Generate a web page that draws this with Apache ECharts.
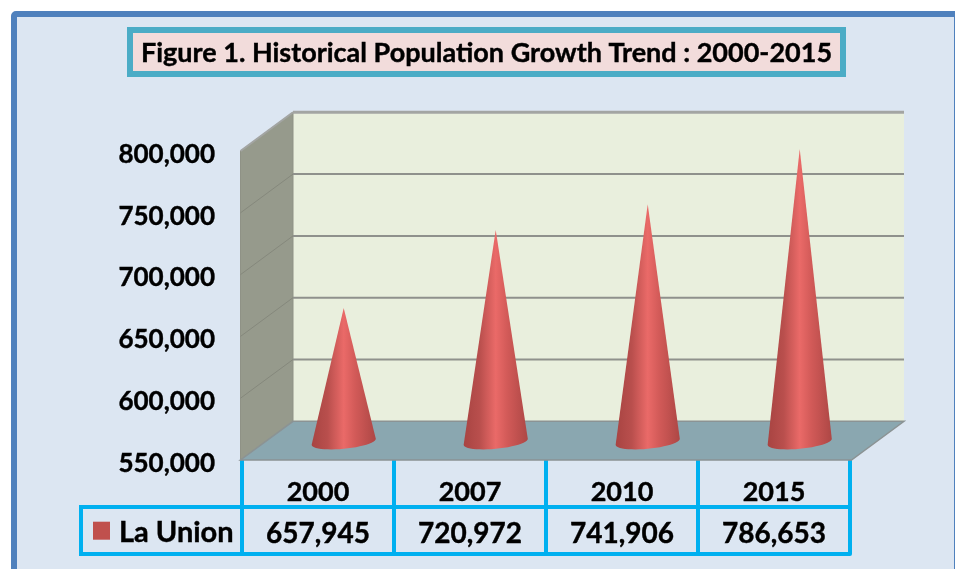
<!DOCTYPE html>
<html>
<head>
<meta charset="utf-8">
<title>Historical Population Growth Trend</title>
<style>
  html, body { margin: 0; padding: 0; background: #fff; }
  #main { width: 955px; height: 569px; }
</style>
<script src="https://cdn.jsdelivr.net/npm/echarts@6/dist/echarts.min.js"></script>
</head>
<body>
<div id="main"></div>
<script>
var years = ['2000', '2007', '2010', '2015'];
var population = [657945, 720972, 741906, 786653];
var yTicks = [550000, 600000, 650000, 700000, 750000, 800000];
var seriesName = 'La Union';
var titleText = 'Figure 1. Historical Population Growth Trend : 2000-2015';

var FONT = 'Lato';
var LINE_BLUE = '#00b0f0';
// how far the back wall sits from the front axis plane
var DEPTH_X = 52.5;
var DEPTH_Y = -38.7;

function fmt(v) {
  return Number(v).toLocaleString('en-US');
}

// left and right wall ends for a value, taken from the category band
function wallEnds(api, value) {
  var band = api.size([1, 0])[0];
  var first = api.coord([0, value]);
  var last = api.coord([years.length - 1, value]);
  return {
    left: [first[0] - band / 2 - 1.5, first[1]],
    right: [last[0] + band / 2 + 1.5, last[1]]
  };
}

function back(p) {
  return [p[0] + DEPTH_X, p[1] + DEPTH_Y];
}

function renderWalls(params, api) {
  var low = wallEnds(api, yTicks[0]);
  var high = wallEnds(api, yTicks[yTicks.length - 1]);
  return {
    type: 'group',
    children: [
      {
        type: 'polygon',
        shape: { points: [back(high.left), back(high.right), back(low.right), back(low.left)] },
        style: { fill: '#e9efdd' }
      },
      {
        type: 'polygon',
        shape: { points: [high.left, back(high.left), back(low.left), low.left] },
        style: { fill: '#969a8c', stroke: '#8f9286', lineWidth: 1 }
      },
      {
        type: 'polygon',
        shape: { points: [low.left, low.right, back(low.right), back(low.left)] },
        style: { fill: '#8aa7b0', stroke: '#8b9394', lineWidth: 1.5 }
      }
    ]
  };
}

function renderGridLine(params, api) {
  var ends = wallEnds(api, api.value(1));
  var isTop = api.value(1) === yTicks[yTicks.length - 1];
  var isBottom = api.value(1) === yTicks[0];
  var children = [];
  if (!isBottom) {
    children.push({
      type: 'line',
      shape: { x1: back(ends.left)[0], y1: back(ends.left)[1], x2: back(ends.right)[0], y2: back(ends.right)[1] },
      style: { stroke: isTop ? '#a3a5a3' : '#8f918c', lineWidth: isTop ? 3 : 2 }
    });
    children.push({
      type: 'line',
      shape: { x1: ends.left[0], y1: ends.left[1], x2: back(ends.left)[0], y2: back(ends.left)[1] },
      style: { stroke: isTop ? '#a3a5a3' : '#85887c', lineWidth: isTop ? 2 : 1 }
    });
  }
  return { type: 'group', children: children };
}

function renderCone(params, api) {
  var tip = api.coord([api.value(0), api.value(1)]);
  var base = api.coord([api.value(0), yTicks[0]]);
  var rx = api.size([1, 0])[0] * 0.211;
  var cx = base[0] + DEPTH_X * 0.49;
  var cy = base[1] + DEPTH_Y * 0.47;
  var tipY = tip[1] + DEPTH_Y * 0.48;
  var points = [[cx, tipY]];
  // base rim, front half of a slightly tilted ellipse
  for (var i = 0; i <= 24; i++) {
    var t = Math.PI - Math.PI * i / 24;
    points.push([cx + rx * Math.cos(t), cy + 7 * Math.sin(t) - 3 * Math.cos(t)]);
  }
  return {
    type: 'polygon',
    shape: { points: points },
    style: {
      fill: {
        type: 'linear', x: 0, y: 0, x2: 1, y2: 0,
        colorStops: [
          { offset: 0, color: '#a84442' },
          { offset: 0.25, color: '#b94f4d' },
          { offset: 0.5, color: '#ea6a68' },
          { offset: 0.68, color: '#d25a58' },
          { offset: 1, color: '#ad4745' }
        ]
      }
    }
  };
}

var chart = echarts.init(document.getElementById('main'), null, { renderer: 'canvas' });

var labelStyle = {
  fontFamily: FONT,
  fontWeight: 'bold',
  color: '#000',
  textBorderColor: '#000',
  textBorderWidth: 0.4
};

chart.setOption({
  animation: false,
  backgroundColor: '#fff',
  textStyle: { fontFamily: FONT },
  title: {
    text: titleText,
    left: 130,
    top: 30,
    padding: [9, 11, 7, 11],
    backgroundColor: '#f2dcdb',
    borderColor: '#4bacc6',
    borderWidth: 6,
    textStyle: Object.assign({}, labelStyle, { fontSize: 27, lineHeight: 28 })
  },
  legend: {
    left: 93,
    top: 518,
    icon: 'rect',
    itemWidth: 17,
    itemHeight: 18,
    itemGap: 0,
    padding: 0,
    data: [{ name: seriesName, itemStyle: { color: '#c0504d' } }],
    formatter: function (name) { return '{n|' + name + '}'; },
    textStyle: {
      rich: { n: Object.assign({ fontSize: 29, padding: [4, 0, 0, 4] }, labelStyle) }
    },
    selectedMode: false
  },
  grid: { left: 242, top: 151, width: 608, height: 309 },
  xAxis: [
    {
      type: 'category',
      data: years,
      axisLine: { show: true, lineStyle: { color: LINE_BLUE, width: 0 } },
      axisTick: { show: true, length: 47, lineStyle: { color: LINE_BLUE, width: 4 } },
      axisLabel: Object.assign({ margin: 19, fontSize: 27 }, labelStyle)
    },
    {
      type: 'category',
      data: population.map(fmt),
      position: 'bottom',
      offset: 47,
      axisLine: { show: true, lineStyle: { color: LINE_BLUE, width: 4 } },
      axisTick: { show: true, length: 47, lineStyle: { color: LINE_BLUE, width: 4 } },
      axisLabel: Object.assign({ margin: 13, fontSize: 28 }, labelStyle)
    },
    {
      type: 'category',
      data: years,
      position: 'bottom',
      offset: 94,
      axisLine: { show: true, lineStyle: { color: LINE_BLUE, width: 4 } },
      axisTick: { show: false },
      axisLabel: { show: false }
    }
  ],
  yAxis: {
    type: 'value',
    min: yTicks[0],
    max: yTicks[yTicks.length - 1],
    interval: 50000,
    axisLine: { show: false },
    axisTick: { show: false },
    splitLine: { show: false },
    axisLabel: {
      margin: 27,
      formatter: function (v) { return '{t|' + fmt(v) + '}'; },
      rich: { t: Object.assign({ fontSize: 26, padding: [7, 0, 0, 0] }, labelStyle) }
    }
  },
  graphic: [
    {
      type: 'rect',
      z: -10,
      shape: { x: 14, y: 14, width: 943, height: 600, r: 2 },
      style: { fill: '#dce6f2', stroke: '#4f81bd', lineWidth: 6 }
    },
    {
      type: 'polyline',
      z: 10,
      shape: { points: [[242, 507], [81, 507], [81, 554], [242, 554]] },
      style: { fill: 'none', stroke: LINE_BLUE, lineWidth: 4 }
    }
  ],
  series: [
    { type: 'custom', name: 'walls', z: 1, silent: true, renderItem: renderWalls, data: [[0, yTicks[0]]] },
    {
      type: 'custom',
      name: 'gridlines',
      z: 2,
      silent: true,
      renderItem: renderGridLine,
      data: yTicks.map(function (t) { return [0, t]; })
    },
    {
      type: 'custom',
      name: seriesName,
      z: 3,
      renderItem: renderCone,
      encode: { x: 0, y: 1 },
      data: population.map(function (v, i) { return [i, v]; })
    }
  ]
});
</script>
</body>
</html>
